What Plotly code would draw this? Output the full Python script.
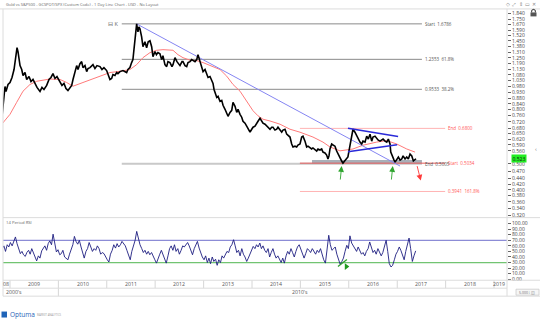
import numpy as np
import pandas as pd
import plotly.graph_objects as go

# ---------------- data ----------------
price_years = [
    2008.835, 2008.855, 2008.876, 2008.897, 2008.917, 2008.959, 2009.000, 2009.041, 2009.083, 2009.103,
    2009.124, 2009.145, 2009.165, 2009.186, 2009.207, 2009.242, 2009.269, 2009.310, 2009.345, 2009.393,
    2009.434, 2009.475, 2009.517, 2009.558, 2009.620, 2009.661, 2009.702, 2009.758, 2009.806, 2009.847,
    2009.888, 2009.930, 2009.971, 2010.033, 2010.074, 2010.116, 2010.157, 2010.198, 2010.240, 2010.275,
    2010.302, 2010.343, 2010.378, 2010.405, 2010.446, 2010.481, 2010.508, 2010.550, 2010.585, 2010.612,
    2010.653, 2010.715, 2010.756, 2010.798, 2010.860, 2010.901, 2010.942, 2010.998, 2011.025, 2011.066,
    2011.101, 2011.128, 2011.169, 2011.205, 2011.231, 2011.273, 2011.335, 2011.411, 2011.438, 2011.479,
    2011.514, 2011.541, 2011.562, 2011.583, 2011.603, 2011.618, 2011.645, 2011.665, 2011.686, 2011.721,
    2011.748, 2011.789, 2011.824, 2011.857, 2011.893, 2011.928, 2011.955, 2011.996, 2012.027, 2012.058,
    2012.099, 2012.134, 2012.161, 2012.202, 2012.238, 2012.264, 2012.306, 2012.347, 2012.368, 2012.409,
    2012.450, 2012.512, 2012.554, 2012.574, 2012.616, 2012.651, 2012.678, 2012.719, 2012.754, 2012.781,
    2012.822, 2012.857, 2012.884, 2012.926, 2012.967, 2012.988, 2013.029, 2013.064, 2013.091, 2013.132,
    2013.167, 2013.194, 2013.215, 2013.236, 2013.271, 2013.298, 2013.339, 2013.374, 2013.401, 2013.442,
    2013.477, 2013.504, 2013.545, 2013.581, 2013.607, 2013.628, 2013.649, 2013.684, 2013.711, 2013.752,
    2013.787, 2013.814, 2013.855, 2013.890, 2013.917, 2013.959, 2013.994, 2014.021, 2014.062, 2014.103,
    2014.124, 2014.165, 2014.200, 2014.227, 2014.269, 2014.304, 2014.331, 2014.372, 2014.407, 2014.434,
    2014.475, 2014.510, 2014.537, 2014.579, 2014.614, 2014.641, 2014.682, 2014.717, 2014.744, 2014.785,
    2014.820, 2014.847, 2014.888, 2014.923, 2014.950, 2014.992, 2015.027, 2015.054, 2015.095, 2015.130,
    2015.157, 2015.198, 2015.233, 2015.260, 2015.302, 2015.337, 2015.364, 2015.405, 2015.440, 2015.467,
    2015.508, 2015.543, 2015.570, 2015.591, 2015.612, 2015.647, 2015.674, 2015.715, 2015.750, 2015.777,
    2015.818, 2015.853, 2015.880, 2015.921, 2015.956, 2015.983, 2016.004, 2016.025, 2016.060, 2016.087,
    2016.128, 2016.163, 2016.190, 2016.231, 2016.267, 2016.293, 2016.335, 2016.370, 2016.403, 2016.438,
    2016.473, 2016.500, 2016.541, 2016.576, 2016.603, 2016.645, 2016.707, 2016.748, 2016.783, 2016.816,
    2016.851, 2016.866, 2016.886, 2016.907, 2016.934, 2016.955, 2016.990, 2017.023, 2017.058, 2017.093,
    2017.120, 2017.161, 2017.196, 2017.229, 2017.264, 2017.300, 2017.333, 2017.368, 2017.388,
]
price_values = [
    0.755, 0.837, 0.912, 0.977, 0.936, 0.994, 1.011, 1.056, 1.131, 1.211,
    1.286, 1.366, 1.320, 1.232, 1.170, 1.131, 1.074, 1.102, 1.038, 1.065,
    1.020, 1.038, 1.003, 0.969, 0.936, 0.969, 0.952, 0.986, 1.038, 1.056,
    1.092, 1.047, 1.065, 1.011, 0.986, 1.003, 0.960, 0.944, 0.969, 0.986,
    1.038, 1.111, 1.170, 1.131, 1.190, 1.211, 1.150, 1.170, 1.111, 1.141,
    1.150, 1.180, 1.141, 1.170, 1.160, 1.131, 1.150, 1.121, 1.083, 1.038,
    1.047, 1.083, 1.074, 1.102, 1.092, 1.111, 1.121, 1.102, 1.131, 1.150,
    1.201, 1.232, 1.343, 1.463, 1.594, 1.679, 1.567, 1.636, 1.608, 1.501,
    1.378, 1.438, 1.366, 1.438, 1.451, 1.378, 1.264, 1.320, 1.286, 1.309,
    1.297, 1.232, 1.275, 1.180, 1.160, 1.211, 1.201, 1.160, 1.180, 1.253,
    1.211, 1.170, 1.211, 1.211, 1.170, 1.160, 1.201, 1.211, 1.232, 1.222,
    1.211, 1.232, 1.286, 1.211, 1.150, 1.111, 1.131, 1.083, 1.056, 1.065,
    1.020, 1.003, 0.952, 0.928, 0.889, 0.897, 0.859, 0.866, 0.830, 0.802,
    0.768, 0.755, 0.781, 0.795, 0.852, 0.837, 0.823, 0.781, 0.802, 0.768,
    0.749, 0.723, 0.711, 0.693, 0.675, 0.658, 0.675, 0.687, 0.693, 0.717,
    0.723, 0.742, 0.723, 0.711, 0.705, 0.693, 0.687, 0.675, 0.687, 0.687,
    0.670, 0.675, 0.687, 0.670, 0.658, 0.670, 0.675, 0.647, 0.641, 0.631,
    0.594, 0.579, 0.583, 0.579, 0.589, 0.594, 0.631, 0.636, 0.609, 0.579,
    0.583, 0.574, 0.569, 0.574, 0.564, 0.559, 0.569, 0.564, 0.569, 0.554,
    0.550, 0.540, 0.522, 0.536, 0.569, 0.594, 0.589, 0.583, 0.559, 0.545,
    0.531, 0.513, 0.504, 0.513, 0.522, 0.531, 0.559, 0.583, 0.636, 0.675,
    0.658, 0.636, 0.620, 0.604, 0.594, 0.609, 0.604, 0.636, 0.620, 0.647,
    0.609, 0.631, 0.636, 0.620, 0.615, 0.609, 0.620, 0.609, 0.604, 0.620,
    0.594, 0.554, 0.540, 0.531, 0.517, 0.508, 0.522, 0.531, 0.517, 0.522,
    0.536, 0.522, 0.531, 0.522, 0.545, 0.536, 0.513, 0.522, 0.523,
]

ma_years = [
    2008.830, 2009.000, 2009.138, 2009.269, 2009.413, 2009.552, 2009.826, 2010.033, 2010.171, 2010.302,
    2010.508, 2010.860, 2011.066, 2011.273, 2011.479, 2011.618, 2011.748, 2011.893, 2012.031, 2012.161,
    2012.306, 2012.368, 2012.471, 2012.574, 2012.719, 2012.857, 2012.988, 2013.194, 2013.339, 2013.477,
    2013.607, 2013.752, 2013.890, 2014.021, 2014.124, 2014.227, 2014.372, 2014.579, 2014.785, 2014.992,
    2015.260, 2015.467, 2015.612, 2015.818, 2016.087, 2016.293, 2016.576, 2016.783, 2016.990, 2017.196,
    2017.368,
]
ma_values = [
    0.705, 0.768, 0.852, 0.938, 0.994, 1.022, 1.042, 1.038, 1.011, 0.979,
    1.011, 1.068, 1.102, 1.114, 1.131, 1.180, 1.253, 1.309, 1.336, 1.343,
    1.343, 1.336, 1.286, 1.253, 1.226, 1.222, 1.201, 1.164, 1.131, 1.068,
    0.994, 0.938, 0.859, 0.792, 0.758, 0.736, 0.725, 0.705, 0.675, 0.658,
    0.631, 0.604, 0.579, 0.560, 0.569, 0.588, 0.604, 0.612, 0.594, 0.569,
    0.554,
]

rsi_first_date = "2008-11-04"
rsi_last_date = "2017-05-20"
rsi_values = [
    55, 60, 50, 62, 58, 66, 60, 70, 76, 64, 55, 46, 50, 44, 41, 48, 52, 45, 55, 48,
    40, 33, 42, 38, 51, 56, 60, 52, 64, 69, 62, 81, 60, 49, 53, 44, 46, 52, 40, 38,
    35, 45, 55, 62, 77, 68, 63, 70, 58, 47, 38, 50, 55, 66, 58, 50, 55, 52, 60, 55,
    45, 48, 46, 40, 35, 31, 45, 52, 62, 56, 64, 58, 62, 68, 65, 60, 52, 42, 35, 50,
    60, 70, 86, 72, 62, 55, 48, 52, 45, 50, 44, 48, 40, 35, 29, 38, 45, 52, 44, 36,
    29, 42, 55, 60, 52, 62, 50, 55, 45, 52, 60, 58, 62, 66, 60, 50, 44, 55, 62, 68,
    56, 47, 40, 35, 42, 30, 38, 28, 40, 32, 36, 25, 35, 30, 42, 38, 45, 50, 48, 58,
    62, 71, 60, 48, 52, 42, 55, 45, 40, 32, 38, 45, 52, 59, 55, 62, 58, 65, 55, 60,
    52, 48, 55, 40, 48, 55, 45, 38, 42, 35, 30, 38, 29, 42, 50, 45, 55, 48, 40, 50,
    58, 62, 55, 45, 38, 46, 55, 52, 48, 55, 50, 45, 52, 48, 55, 42, 35, 29, 50, 79,
    62, 52, 55, 58, 45, 35, 27, 32, 38, 50, 61, 55, 78, 65, 60, 55, 50, 58, 52, 45,
    48, 42, 50, 55, 67, 58, 48, 52, 45, 55, 50, 42, 48, 58, 70, 50, 28, 22, 25, 35,
    45, 50, 58, 52, 45, 35, 50, 62, 74, 55, 32, 42, 51,
]

fib_levels = [1.6786, 1.2353, 0.9533]
fib_labels = ["Start  1.6786", "1.2353  61.8%", "0.9533  38.2%"]
fib_end_level = 0.5005
fib_end_label = "End  0.5005"
fib_span = [2011.31, 2017.51]

ext_levels = [0.6800, 0.5034, 0.3941]
ext_labels = ["End  0.6800", "Start  0.5034", "0.3941  161.8%"]
ext_colors = ["#ffb3b3", "#e35a5a", "#ffb3b3"]
ext_span = [2014.99, 2017.99]

support_span = [2015.24, 2017.51]
support_band = [0.502, 0.517]

trend_years = [2011.618, 2017.058]
trend_values = [1.6786, 0.491]
tri_upper_years = [2015.983, 2017.017]
tri_upper_values = [0.681, 0.634]
tri_lower_years = [2015.983, 2016.997]
tri_lower_values = [0.556, 0.590]

green_arrow_years = [2015.853, 2016.907]
green_arrow_values = [0.491, 0.491]
red_arrow_year = 2017.486
red_arrow_value = 0.433

rsi_levels = [70, 30]
rsi_level_colors = ["#8c8cd6", "#72c472"]
rsi_mark_years = [2015.777, 2015.962]
rsi_mark_values = [22.7, 35.5]

price_ticks = [1.84, 1.75, 1.67, 1.59, 1.52, 1.45, 1.38, 1.31, 1.25, 1.19, 1.13, 1.08,
               1.03, 0.98, 0.93, 0.88, 0.84, 0.80, 0.76, 0.72, 0.68, 0.65, 0.62, 0.59,
               0.56, 0.50, 0.47, 0.44, 0.42, 0.40, 0.38, 0.36, 0.34, 0.32]
rsi_ticks = [0, 10, 20, 30, 40, 50, 60, 70, 80, 90, 100]
year_labels = list(range(2009, 2019))
x_range_years = [2008.8554, 2019.2686]

title_text = "Gold vs S&P500 - GCSPOT/SPX (Custom Code) - 1 Day Line Chart - USD - No Layout"

# ---------------- helpers ----------------
W, H = 540, 322
FONT = "Open Sans, Noto Sans, sans-serif"


def px(x):
    return x / W


def py(y):
    return 1 - y / H


def ydate(v):
    y = int(np.floor(v))
    s = pd.Timestamp(year=y, month=1, day=1)
    e = pd.Timestamp(year=y + 1, month=1, day=1)
    return (s + (e - s) * (v - y)).strftime("%Y-%m-%d %H:%M")


def dates(arr):
    return [ydate(v) for v in arr]


x0, x1 = ydate(x_range_years[0]), ydate(x_range_years[1])

fig = go.Figure()


def line(xs, ys, color, width, xa="x", ya="y", dash=None):
    fig.add_trace(go.Scatter(x=xs, y=ys, mode="lines", xaxis=xa, yaxis=ya,
                             line=dict(color=color, width=width, dash=dash),
                             hoverinfo="skip", showlegend=False))


# Fibonacci retracement (gray)
for lvl in fib_levels:
    line(dates(fib_span), [lvl, lvl], "#8a8a8a", 1)
line(dates(fib_span), [fib_end_level, fib_end_level], "#c9c9c9", 2)

# support band
sx = dates([support_span[0], support_span[1], support_span[1], support_span[0], support_span[0]])
sy = [support_band[0], support_band[0], support_band[1], support_band[1], support_band[0]]
fig.add_trace(go.Scatter(x=sx, y=sy, mode="lines", fill="toself", fillcolor="#a9afb8",
                         line=dict(width=0, color="#a9afb8"), hoverinfo="skip", showlegend=False))

# Fibonacci extension (red)
for lvl, col in zip(ext_levels, ext_colors):
    line(dates(ext_span), [lvl, lvl], col, 1)

# moving average
line(dates(ma_years), ma_values, "#ff7a7a", 1)

# trend line
line(dates(trend_years), trend_values, "#8585f2", 1)

# price
line(dates(price_years), price_values, "#000000", 1.6)

# triangle
line(dates(tri_upper_years), tri_upper_values, "#2a2ad8", 1.6)
line(dates(tri_lower_years), tri_lower_values, "#2a2ad8", 1.6)

# RSI panel
for lvl, col in zip(rsi_levels, rsi_level_colors):
    line([x0, x1], [lvl, lvl], col, 1.2, "x2", "y2")
rsi_dates = pd.date_range(rsi_first_date, rsi_last_date, periods=len(rsi_values))
line(list(rsi_dates.strftime("%Y-%m-%d")), rsi_values, "#1d1d80", 0.9, "x2", "y2")
line(dates(rsi_mark_years), rsi_mark_values, "#2ea02e", 1.3, "x2", "y2")
fig.add_trace(go.Scatter(x=[ydate(rsi_mark_years[1] - 0.012)], y=[rsi_mark_values[0]], mode="markers",
                         xaxis="x2", yaxis="y2",
                         marker=dict(symbol="triangle-right", size=6, color="#1f9a1f"),
                         hoverinfo="skip", showlegend=False))

ann = []
shapes = []


def text(x, y, t, size, color, xanchor="left", xref="paper", yref="paper", **kw):
    ann.append(dict(x=x, y=y, xref=xref, yref=yref, text=t, showarrow=False,
                    xanchor=xanchor, yanchor="middle",
                    font=dict(size=size, color=color, family=FONT), **kw))


# level labels
for lvl, lab in zip(fib_levels, fib_labels):
    text(ydate(fib_span[1]), np.log10(lvl), lab, 4.5, "#555555", xref="x", yref="y", xshift=1)
text(ydate(fib_span[1]), np.log10(fib_end_level), fib_end_label, 4.5, "#555555", xref="x", yref="y", xshift=1)
for lvl, lab in zip(ext_levels, ext_labels):
    text(ydate(ext_span[1]), np.log10(lvl), lab, 4.5, "#ff5555", xref="x", yref="y", xshift=1)

# K marker near the start of the retracement
text(ydate(fib_span[0]), np.log10(fib_levels[0]), "⊟ K", 5.5, "#666666", xanchor="right",
     xref="x", yref="y", xshift=-2)

# arrows
for xv, yv in zip(green_arrow_years, green_arrow_values):
    ann.append(dict(x=ydate(xv), y=np.log10(yv), xref="x", yref="y", text="", showarrow=True,
                    arrowhead=2, arrowsize=1.3, arrowwidth=0.9, arrowcolor="#2fa52f",
                    ax=-1.5, ay=15))
ann.append(dict(x=ydate(red_arrow_year), y=np.log10(red_arrow_value), xref="x", yref="y", text="",
                showarrow=True, arrowhead=2, arrowsize=1.3, arrowwidth=0.9, arrowcolor="#ff3a3a",
                ax=-4, ay=-16))

# last value tag
ann.append(dict(x=px(510.5), y=np.log10(price_values[-1]), xref="paper", yref="y",
                text=f"{price_values[-1]:.3f}", showarrow=False, xanchor="left", yanchor="middle",
                bgcolor="#22ee22", borderpad=0.5,
                font=dict(size=5, color="#111111", family=FONT)))

# header, RSI label
text(px(4), py(4.5), title_text, 4.0, "#666666")
text(px(4), py(223.5), "14 Period RSI", 4.2, "#666666")
text(px(538), py(4), "◇  ⤢  ⇕  ▭  ✕", 4.5, "#888888", xanchor="right")
text(px(538.5), py(150), "‹", 6, "#777777", xanchor="right")

# date axis rows
for yr in year_labels:
    text(f"{yr}-07-02", py(286), str(yr), 5.2, "#555555", xanchor="center", xref="x")
text(px(507), py(286), "2019", 5.2, "#555555", xanchor="right")
text(px(1), py(286), "08", 5.2, "#555555")
text(px(4), py(294), "2000's", 5.2, "#555555")
text("2015-01-01", py(294), "2010's", 5.2, "#555555", xanchor="center", xref="x")
for yr in range(2009, 2020):
    shapes.append(dict(type="line", xref="x", yref="paper", x0=f"{yr}-01-01", x1=f"{yr}-01-01",
                       y0=py(290), y1=py(282), line=dict(color="#d6d6d6", width=1)))
shapes.append(dict(type="line", xref="x", yref="paper", x0="2010-01-01", x1="2010-01-01",
                   y0=py(298), y1=py(290), line=dict(color="#d6d6d6", width=1)))

# frame lines
for (xa, ya, xb, yb) in [(0, 9, 540, 9), (3, 9, 3, 298), (507, 9, 507, 298), (3, 219, 540, 219),
                         (3, 282, 540, 282), (3, 290, 507, 290), (3, 298, 540, 298)]:
    shapes.append(dict(type="line", xref="paper", yref="paper", x0=px(xa), y0=py(ya), x1=px(xb), y1=py(yb),
                       line=dict(color="#dcdcdc", width=1)))

# lock icon
shapes.append(dict(type="rect", xref="paper", yref="paper", x0=px(530.5), x1=px(536.5), y0=py(16.5), y1=py(12.5),
                   fillcolor="#555555", line=dict(width=0)))
shapes.append(dict(type="path", xref="paper", yref="paper",
                   path=f"M {px(531.6)} {py(12.5)} L {px(531.6)} {py(10.8)} Q {px(533.5)} {py(8.2)} {px(535.4)} {py(10.8)} L {px(535.4)} {py(12.5)}",
                   line=dict(color="#555555", width=1.2)))

# bottom-right widget
shapes.append(dict(type="rect", xref="paper", yref="paper", x0=px(516), x1=px(539), y0=py(297), y1=py(291),
                   fillcolor="#f6f6f6", line=dict(color="#cccccc", width=0.8)))
text(px(517), py(294), "5.000 ⁞ ◫", 3.5, "#666666")

# logo
shapes.append(dict(type="rect", xref="paper", yref="paper", x0=px(1.5), x1=px(7), y0=py(319.5), y1=py(313.5),
                   fillcolor="#1f64b8", line=dict(width=0)))
text(px(7.5), py(316.5), "Optuma", 6.5, "#1f64b8")
text(px(35), py(316.5), "MARKET ANALYTICS", 2.6, "#9a9a9a")

fig.update_layout(
    width=W, height=H, margin=dict(l=0, r=0, t=0, b=0),
    paper_bgcolor="white", plot_bgcolor="white", showlegend=False,
    font=dict(family=FONT),
    annotations=ann, shapes=shapes,
    xaxis=dict(domain=[px(3), px(507)], range=[x0, x1], type="date", anchor="y",
               showticklabels=False, showgrid=False, zeroline=False, ticks=""),
    xaxis2=dict(domain=[px(3), px(507)], range=[x0, x1], type="date", anchor="y2", matches="x",
                showticklabels=False, showgrid=False, zeroline=False, ticks=""),
    yaxis=dict(domain=[py(219), py(9)], type="log", side="right", anchor="x",
               range=[0.225 - 195 / 268, 0.225 + 15 / 268],
               tickvals=price_ticks, ticktext=[f"{v:.3f}" for v in price_ticks],
               ticks="outside", ticklen=3, tickcolor="#666666", tickwidth=0.8,
               tickfont=dict(size=5, color="#444444", family=FONT),
               showgrid=False, zeroline=False),
    yaxis2=dict(domain=[py(282), py(219)], side="right", anchor="x2",
                range=[-1.8, 110.7],
                tickvals=rsi_ticks, ticktext=[f"{v:.2f}" for v in rsi_ticks],
                ticks="outside", ticklen=3, tickcolor="#666666", tickwidth=0.8,
                tickfont=dict(size=5, color="#444444", family=FONT),
                showgrid=False, zeroline=False),
)

fig.write_html("out.html")
